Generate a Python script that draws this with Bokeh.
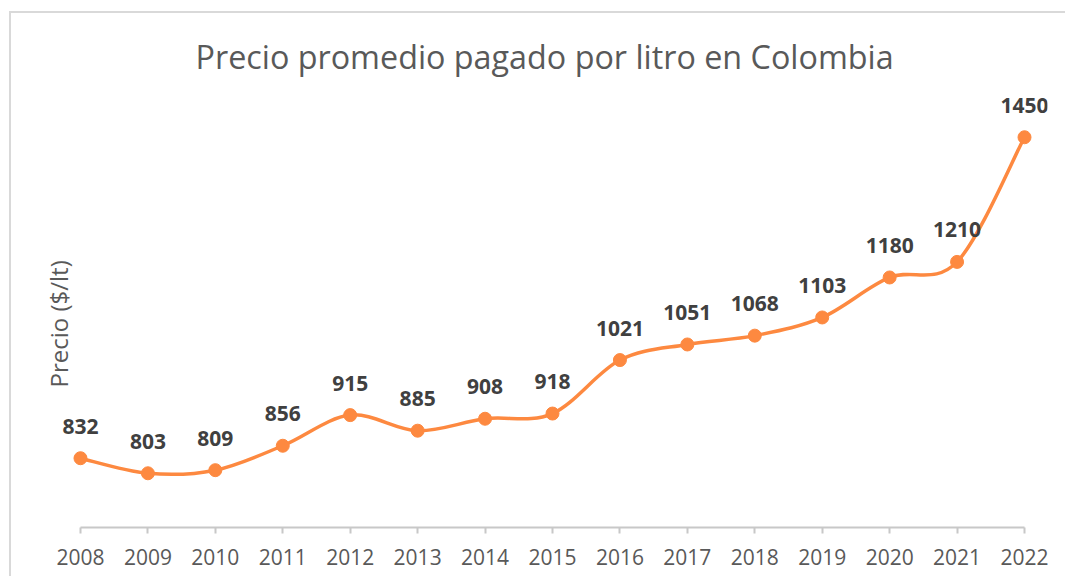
from bokeh.plotting import figure
from bokeh.models import FixedTicker, ColumnDataSource, Range1d, Title
from bokeh.core.properties import value
from bokeh.embed import file_html
from bokeh.resources import INLINE

years = [2008, 2009, 2010, 2011, 2012, 2013, 2014, 2015, 2016, 2017, 2018, 2019, 2020, 2021, 2022]
prices = [832, 803, 809, 856, 915, 885, 908, 918, 1021, 1051, 1068, 1103, 1180, 1210, 1450]
year_labels = [str(y) for y in years]
labels = [str(v) for v in prices]

ORANGE = "#FD8940"
FONT = "Open Sans"

# smoothed line segments (Catmull-Rom style bezier, like Excel's smoothed line)
n = len(years)
x0, y0, x1, y1, cx0, cy0, cx1, cy1 = [], [], [], [], [], [], [], []
for i in range(n - 1):
    pm = max(i - 1, 0)
    pp = min(i + 2, n - 1)
    x0.append(years[i]); y0.append(prices[i])
    x1.append(years[i + 1]); y1.append(prices[i + 1])
    cx0.append(years[i] + (years[i + 1] - years[pm]) / 6)
    cy0.append(prices[i] + (prices[i + 1] - prices[pm]) / 6)
    cx1.append(years[i + 1] - (years[pp] - years[i]) / 6)
    cy1.append(prices[i + 1] - (prices[pp] - prices[i]) / 6)

W, H = 1056, 565
p = figure(width=W, height=H, output_backend="svg", toolbar_location=None,
           x_range=Range1d(2007.674, 2022.341), y_range=Range1d(698.6, 1540.0),
           y_axis_location=None,
           min_border_left=47, min_border_right=20, min_border_top=77, min_border_bottom=51)
p.styles = {"margin-left": "9px", "margin-top": "11px",
            "border-left": "2px solid #d9d9d9", "border-top": "2px solid #d9d9d9"}

p.title.text = "Precio promedio pagado por litro en Colombia"
p.title.align = "left"
p.title.text_font = FONT
p.title.text_font_size = "32.3px"
p.title.text_font_style = "normal"
p.title.text_color = "#595959"
p.title.standoff = 25
p.title.offset = 137

p.outline_line_color = None
p.xgrid.grid_line_color = None
p.ygrid.grid_line_color = None

xa = p.xaxis[0]
xa.ticker = FixedTicker(ticks=years)
xa.major_label_overrides = {y: s for y, s in zip(years, year_labels)}
xa.bounds = (years[0], years[-1])
xa.axis_line_color = "#c8c8c8"
xa.axis_line_width = 2
xa.major_tick_line_color = "#c8c8c8"
xa.major_tick_line_width = 2
xa.major_tick_out = 6
xa.major_tick_in = 0
xa.minor_tick_line_color = None
xa.major_label_text_font = FONT
xa.major_label_text_font_size = "21px"
xa.major_label_text_color = "#595959"
xa.major_label_standoff = 15

ylab = Title(text="Precio ($/lt)", align="left", offset=140, standoff=-32,
             text_font=FONT, text_font_size="24px", text_font_style="normal",
             text_color="#595959")
p.add_layout(ylab, "left")

p.bezier(x0=x0, y0=y0, x1=x1, y1=y1, cx0=cx0, cy0=cy0, cx1=cx1, cy1=cy1,
         line_color=ORANGE, line_width=3.5)

src = ColumnDataSource(dict(x=years, y=prices, label=labels))
p.scatter("x", "y", source=src, size=13, fill_color=ORANGE, line_color=ORANGE)
p.text("x", "y", text="label", source=src, text_font=value(FONT), text_font_style="bold",
       text_font_size="21px", text_color="#404040", text_align="center",
       text_baseline="middle", y_offset=-32)

open("out.html", "w").write(file_html(p, INLINE))
